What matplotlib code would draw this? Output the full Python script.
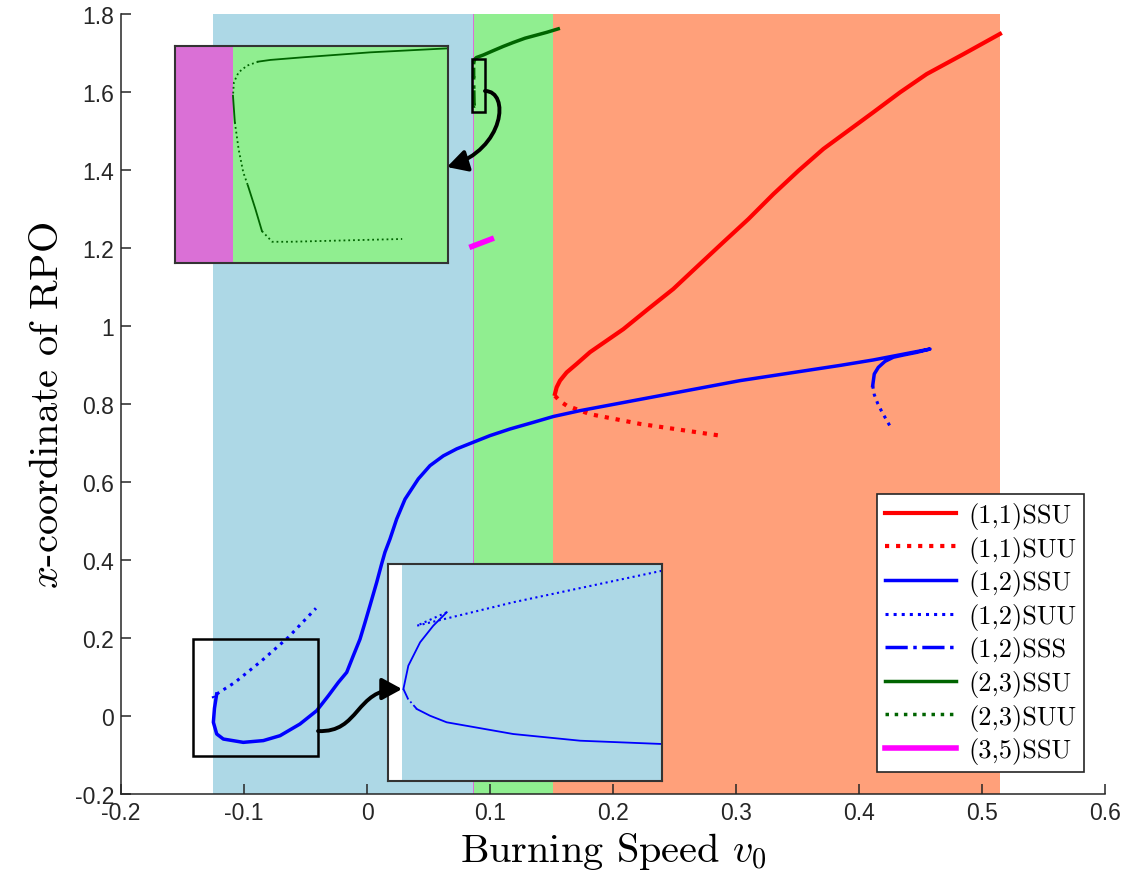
import numpy as np
import matplotlib
matplotlib.use('Agg')
import matplotlib.pyplot as plt
from matplotlib.patches import Rectangle, FancyArrowPatch
from matplotlib.path import Path
from matplotlib.lines import Line2D

plt.rcParams['mathtext.fontset'] = 'cm'
plt.rcParams['axes.unicode_minus'] = False
plt.rcParams['font.family'] = ['Liberation Sans', 'DejaVu Sans']

# regions of v0 (background bands)
band_edges = [-0.125, 0.0858, 0.0867, 0.151, 0.5146]
band_colors = ['#add8e6', '#da70d6', '#90ee90', '#ffa07a']

# (1,1) branch
red_ssu_x = [0.1528, 0.1542, 0.1569, 0.1623, 0.1705, 0.1813, 0.2084, 0.2287, 0.2490, 0.2693,
             0.2897, 0.3100, 0.3303, 0.3507, 0.3710, 0.3913, 0.4116, 0.4333, 0.4550, 0.4848, 0.5146]
red_ssu_y = [0.826, 0.843, 0.860, 0.881, 0.903, 0.933, 0.992, 1.044, 1.095, 1.155,
             1.215, 1.274, 1.338, 1.398, 1.454, 1.501, 1.548, 1.599, 1.646, 1.697, 1.749]
red_suu_x = [0.1528, 0.1570, 0.1623, 0.1813, 0.2220, 0.2870]
red_suu_y = [0.821, 0.807, 0.796, 0.774, 0.749, 0.719]

# (1,2) branch
blue_ssu_x = [-0.1222, -0.1240, -0.1249, -0.1222, -0.1168, -0.1006, -0.0843, -0.0707, -0.0545,
              -0.0409, -0.0314, -0.0233, -0.0165, -0.0111, -0.0057, -0.0016, 0.0024, 0.0079,
              0.0119, 0.0146, 0.0187, 0.0241, 0.0309, 0.0417, 0.0512, 0.0620, 0.0729, 0.0864,
              0.1000, 0.1163, 0.1352, 0.1515, 0.1732, 0.3033, 0.3846, 0.4116, 0.4577,
              0.4469, 0.4360, 0.4279, 0.4211, 0.4157, 0.4124, 0.4111]
blue_ssu_y = [0.0564, 0.020, -0.016, -0.046, -0.059, -0.0675, -0.063, -0.0504, -0.0205,
              0.0137, 0.052, 0.0863, 0.112, 0.155, 0.197, 0.240, 0.283, 0.343,
              0.390, 0.420, 0.454, 0.505, 0.556, 0.608, 0.642, 0.667, 0.685, 0.702,
              0.719, 0.736, 0.753, 0.768, 0.783, 0.860, 0.899, 0.913, 0.941,
              0.9325, 0.9256, 0.920, 0.9094, 0.894, 0.877, 0.847]
blue_suu_x = [-0.1222, -0.1073, -0.0856, -0.0640, -0.0415]
blue_suu_y = [0.0564, 0.0864, 0.1418, 0.2018, 0.2762]
blue_suu2_x = [0.4111, 0.4124, 0.4151, 0.4184, 0.4220, 0.4258]
blue_suu2_y = [0.847, 0.824, 0.802, 0.781, 0.761, 0.740]

# (2,3) branch, solid / dotted pieces
green_ssu_a_x = [0.08697, 0.08710, 0.08745, 0.08817, 0.08901, 0.0946, 0.1026, 0.1108,
                 0.1189, 0.1285, 0.1379, 0.1461, 0.1555]
green_ssu_a_y = [1.6799, 1.6810, 1.6827, 1.6859, 1.6885, 1.695, 1.706, 1.717,
                 1.727, 1.738, 1.746, 1.753, 1.762]
green_suu_b_x = [0.08697, 0.08685, 0.08676, 0.08671, 0.08670]
green_suu_b_y = [1.6799, 1.6773, 1.6730, 1.6666, 1.6579]
green_ssu_c_x = [0.08670, 0.08672]
green_ssu_c_y = [1.6579, 1.6408]
green_suu_d_x = [0.08672, 0.08676, 0.08681, 0.08686]
green_suu_d_y = [1.6408, 1.6235, 1.6085, 1.5999]
green_ssu_e_x = [0.08686, 0.08694, 0.08701]
green_ssu_e_y = [1.5999, 1.5848, 1.5706]
green_suu_f_x = [0.08701, 0.08712, 0.08731, 0.08851]
green_suu_f_y = [1.5706, 1.5637, 1.5637, 1.5655]

# (3,5) branch
mag_x = [0.0853, 0.1011]
mag_y = [1.204, 1.223]

# close-up of the (1,2) fold
fold_ssu_up_x = [-0.12336, -0.12385, -0.12433, -0.12476, -0.12494]
fold_ssu_up_y = [0.06887, 0.06578, 0.06196, 0.05657, 0.05120]
fold_sss_x = [-0.12494, -0.12477, -0.12445]
fold_sss_y = [0.05120, 0.04890, 0.04659]
fold_ssu_lo_x = [-0.12445, -0.12397, -0.12336, -0.12093, -0.11849, -0.11549]
fold_ssu_lo_y = [0.04659, 0.04505, 0.04353, 0.04083, 0.03929, 0.03853]
fold_suu_x = [-0.12336, -0.12445, -0.12093, -0.11549]
fold_suu_y = [0.06887, 0.06578, 0.07118, 0.07846]

xticks = [-0.2, -0.1, 0, 0.1, 0.2, 0.3, 0.4, 0.5, 0.6]
xtick_labels = ['-0.2', '-0.1', '0', '0.1', '0.2', '0.3', '0.4', '0.5', '0.6']
yticks = [-0.2, 0, 0.2, 0.4, 0.6, 0.8, 1, 1.2, 1.4, 1.6, 1.8]
ytick_labels = ['-0.2', '0', '0.2', '0.4', '0.6', '0.8', '1', '1.2', '1.4', '1.6', '1.8']

RED, BLUE, DGREEN, MAG = '#ff0000', '#0000ff', '#006400', '#ff00ff'


def draw_bands(a):
    for i in range(len(band_colors)):
        a.axvspan(band_edges[i], band_edges[i + 1], color=band_colors[i], lw=0, zorder=0)


def draw_green(a, lw):
    a.plot(green_ssu_a_x, green_ssu_a_y, '-', color=DGREEN, lw=lw)
    a.plot(green_suu_b_x, green_suu_b_y, ':', color=DGREEN, lw=lw)
    a.plot(green_ssu_c_x, green_ssu_c_y, '-', color=DGREEN, lw=lw)
    a.plot(green_suu_d_x, green_suu_d_y, ':', color=DGREEN, lw=lw)
    a.plot(green_ssu_e_x, green_ssu_e_y, '-', color=DGREEN, lw=lw)
    a.plot(green_suu_f_x, green_suu_f_y, ':', color=DGREEN, lw=lw)


fig = plt.figure(figsize=(11.35, 8.78), dpi=100)
ax = fig.add_axes([0.1066, 0.0945, 0.867, 0.8884])
draw_bands(ax)

h1, = ax.plot(red_ssu_x, red_ssu_y, '-', color=RED, lw=3)
h2, = ax.plot(red_suu_x, red_suu_y, ':', color=RED, lw=3)
h3, = ax.plot(blue_ssu_x, blue_ssu_y, '-', color=BLUE, lw=2.5)
h4, = ax.plot(blue_suu_x, blue_suu_y, ':', color=BLUE, lw=2.2)
ax.plot(blue_suu2_x, blue_suu2_y, ':', color=BLUE, lw=2.2)
h5, = ax.plot(fold_sss_x, fold_sss_y, '-.', color=BLUE, lw=2.5)
draw_green(ax, 2.5)
h6 = Line2D([], [], color=DGREEN, lw=2.5, ls='-')
h7 = Line2D([], [], color=DGREEN, lw=2.5, ls=':')
h8, = ax.plot(mag_x, mag_y, '-', color=MAG, lw=4)

# zoom boxes
ax.add_patch(Rectangle((0.0854, 1.5487), 0.0105, 0.1359, fill=False, ec='k', lw=1.8, zorder=5))
ax.add_patch(Rectangle((-0.1412, -0.1018), 0.1011, 0.2992, fill=False, ec='k', lw=1.8, zorder=5))

ax.set_xlim(-0.2, 0.6)
ax.set_ylim(-0.2, 1.8)
ax.set_xticks(xticks)
ax.set_xticklabels(xtick_labels)
ax.set_yticks(yticks)
ax.set_yticklabels(ytick_labels)
for s in ['top', 'right']:
    ax.spines[s].set_visible(False)
for s in ['left', 'bottom']:
    ax.spines[s].set_linewidth(1.1)
    ax.spines[s].set_color('#262626')
ax.tick_params(direction='in', length=7, width=1.1, labelsize=16.5, colors='#262626', pad=5)
ax.set_xlabel('Burning Speed $v_0$', fontfamily='cmr10', fontsize=29, labelpad=4)
ax.set_ylabel('$x$-coordinate of RPO', fontfamily='cmr10', fontsize=29, labelpad=6)

leg = ax.legend([h1, h2, h3, h4, h5, h6, h7, h8],
                ['(1,1)SSU', '(1,1)SUU', '(1,2)SSU', '(1,2)SUU', '(1,2)SSS',
                 '(2,3)SSU', '(2,3)SUU', '(3,5)SSU'],
                loc='lower right', bbox_to_anchor=(0.979, 0.028), borderaxespad=0,
                prop={'family': 'cmr10', 'size': 19}, handlelength=2.7,
                handletextpad=0.45, labelspacing=0.25, borderpad=0.3, fancybox=False,
                framealpha=1, edgecolor='#262626')
leg.get_frame().set_linewidth(1.2)

# inset: (2,3) fold
ins1 = fig.add_axes([0.1542, 0.6993, 0.2405, 0.2472])
draw_bands(ins1)
draw_green(ins1, 1.3)
ins1.set_xlim(0.08608, 0.0890)
ins1.set_ylim(1.55, 1.69)

# inset: (1,2) fold
ins2 = fig.add_axes([0.3419, 0.1093, 0.2414, 0.2472])
draw_bands(ins2)
ins2.plot(fold_ssu_up_x, fold_ssu_up_y, '-', color=BLUE, lw=1.3)
ins2.plot(fold_sss_x, fold_sss_y, '-.', color=BLUE, lw=1.3)
ins2.plot(fold_ssu_lo_x, fold_ssu_lo_y, '-', color=BLUE, lw=1.3)
ins2.plot(fold_suu_x, fold_suu_y, ':', color=BLUE, lw=1.5)
ins2.set_xlim(-0.1255, -0.1155)
ins2.set_ylim(0.03, 0.08)

for a in [ins1, ins2]:
    a.set_xticks([])
    a.set_yticks([])
    for s in a.spines.values():
        s.set_linewidth(1.5)
        s.set_color('#333333')

# curved arrows from the zoom boxes to the insets
arrows = [
    [(0.0959, 1.6026), (0.1163, 1.6026), (0.1122, 1.4538), (0.0650, 1.4077)],
    [(-0.0398, -0.0385), (-0.0057, -0.0436), (-0.0098, 0.0692), (0.0285, 0.0692)],
]
for verts in arrows:
    p = Path(verts, [Path.MOVETO, Path.CURVE4, Path.CURVE4, Path.CURVE4])
    arr = FancyArrowPatch(path=p, arrowstyle='-|>,head_length=0.55,head_width=0.3',
                          mutation_scale=22, lw=2.8, color='k', transform=ax.transData)
    fig.add_artist(arr)

fig.savefig('out.png', dpi=100)
